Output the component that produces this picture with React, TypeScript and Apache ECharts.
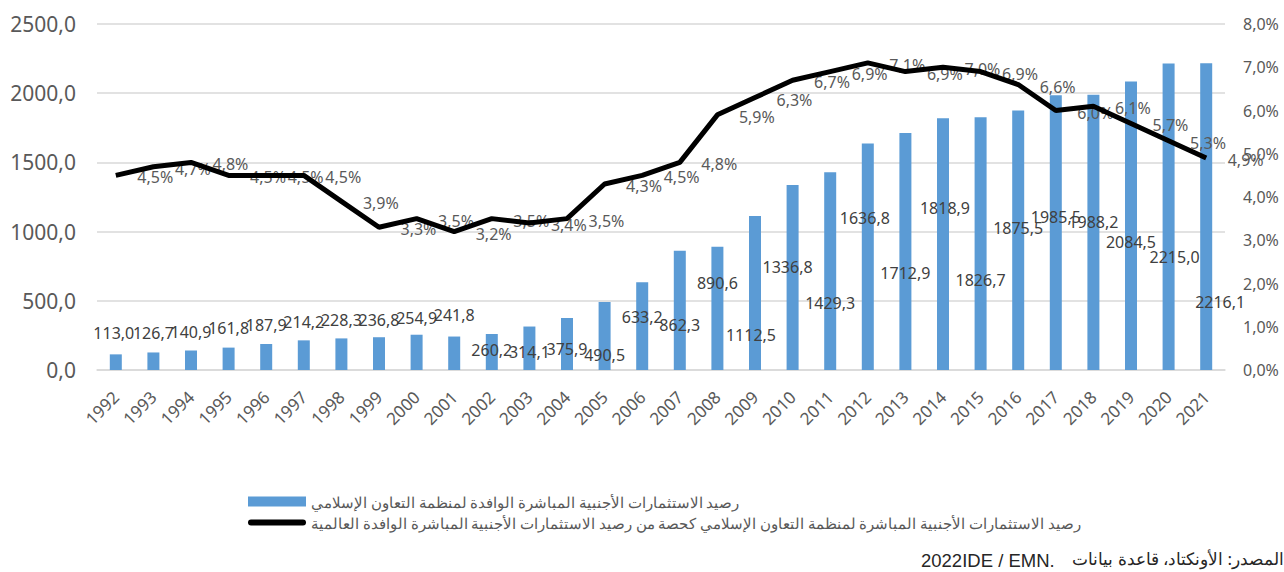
import React, { useEffect, useRef } from "react";
import * as echarts from "echarts";

const years = [
  "1992", "1993", "1994", "1995", "1996", "1997", "1998", "1999", "2000", "2001",
  "2002", "2003", "2004", "2005", "2006", "2007", "2008", "2009", "2010", "2011",
  "2012", "2013", "2014", "2015", "2016", "2017", "2018", "2019", "2020", "2021",
];

const oicStock = [
  113.0, 126.7, 140.9, 161.8, 187.9, 214.2, 228.3, 236.8, 254.9, 241.8,
  260.2, 314.1, 375.9, 490.5, 633.2, 862.3, 890.6, 1112.5, 1336.8, 1429.3,
  1636.8, 1712.9, 1818.9, 1826.7, 1875.5, 1985.5, 1988.2, 2084.5, 2215.0, 2216.1,
];

const worldShare = [
  4.5, 4.7, 4.8, 4.5, 4.5, 4.5, 3.9, 3.3, 3.5, 3.2,
  3.5, 3.4, 3.5, 4.3, 4.5, 4.8, 5.9, 6.3, 6.7, 6.9,
  7.1, 6.9, 7.0, 6.9, 6.6, 6.0, 6.1, 5.7, 5.3, 4.9,
];

// label placement (as moved by hand in the original): vertical distance of the
// label centre below the bar top (negative = above), and horizontal nudge
const barLabelDrop = [
  -21, -19.5, -18, -19.5, -19, -18.5, -18.5, -17, -17, -21.5,
  16, 25.5, 31, 53, 35, 74.5, 36.5, 119, 82, 131,
  74.5, 140, 89.5, 163, 117.5, 122, 127, 160.5, 194, 238.5,
];
const barLabelNudge = [
  -2, 0, 0, 0, 0, 0, 0, 0, 0, 0,
  0, 0, 0, 0, 0, 0, 0, -4, -5, 0,
  -3, 0, 2, 0, 0, 0, 0, 0, 6, 14,
];

const leftTicks = { min: 0, max: 2500, interval: 500 };
const rightTicks = { min: 0, max: 8, interval: 1 };

const barName = "رصيد الاستثمارات الأجنبية المباشرة الوافدة لمنظمة التعاون الإسلامي";
const lineName =
  "رصيد الاستثمارات الأجنبية المباشرة لمنظمة التعاون الإسلامي كحصة من رصيد الاستثمارات الأجنبية المباشرة الوافدة العالمية";
const sourceLatin = "2022IDE / EMN.";
const sourceArabic = "المصدر: الأونكتاد، قاعدة بيانات";

const FONT = "'Noto Sans', 'Open Sans', sans-serif";
const fmt1 = (v: number) => v.toFixed(1).replace(".", ",");

export default function App() {
  const ref = useRef<HTMLDivElement>(null);

  useEffect(() => {
    document.body.style.margin = "0";
    if (!ref.current) return;
    const chart = echarts.init(ref.current, null, { renderer: "svg" });

    const barData = oicStock.map((v, i) => ({
      value: v,
      label: { offset: [barLabelNudge[i], barLabelDrop[i] + 8] },
    }));

    chart.setOption({
      animation: false,
      textStyle: { fontFamily: FONT },
      grid: { left: 97, right: 59, top: 24, bottom: 202, containLabel: false },
      legend: {
        orient: "vertical",
        left: 243,
        top: 489,
        itemWidth: 58,
        itemHeight: 10,
        itemGap: 6,
        selectedMode: false,
        textStyle: { fontSize: 14.5, color: "#595959", fontFamily: FONT },
        data: [
          { name: barName, icon: "rect" },
          {
            name: lineName,
            icon: "path://M3,0 H55 A3,3 0 0 1 55,6 H3 A3,3 0 0 1 3,0 Z",
          },
        ],
      },
      xAxis: {
        type: "category",
        data: years,
        axisLine: { lineStyle: { color: "#d9d9d9", width: 1.5 } },
        axisTick: { show: false },
        axisLabel: {
          interval: 0,
          rotate: 45,
          fontSize: 17,
          color: "#595959",
          margin: 24,
        },
      },
      yAxis: [
        {
          type: "value",
          ...leftTicks,
          axisLine: { show: false },
          axisTick: { show: false },
          axisLabel: {
            fontSize: 21,
            color: "#595959",
            margin: 21,
            formatter: (v: number) => fmt1(v),
          },
          splitLine: { lineStyle: { color: "#d9d9d9", width: 1.5 } },
        },
        {
          type: "value",
          ...rightTicks,
          position: "right",
          axisLine: { show: false },
          axisTick: { show: false },
          axisLabel: {
            fontSize: 16,
            color: "#595959",
            margin: 18,
            formatter: (v: number) => fmt1(v) + "%",
          },
          splitLine: { show: false },
        },
      ],
      series: [
        {
          name: barName,
          type: "bar",
          data: barData,
          barWidth: 12,
          z: 2,
          itemStyle: { color: "#5b9bd5" },
          label: {
            show: true,
            position: "top",
            distance: 0,
            fontSize: 16,
            color: "#404040",
            formatter: (p: any) => fmt1(p.value),
          },
        },
        {
          name: "labels",
          type: "line",
          yAxisIndex: 1,
          data: worldShare,
          z: 2.5,
          symbol: "circle",
          symbolSize: 1,
          itemStyle: { color: "rgba(0,0,0,0)" },
          lineStyle: { width: 0, opacity: 0 },
          label: {
            show: true,
            position: "right",
            distance: 21,
            offset: [0, 2],
            fontSize: 16,
            color: "#595959",
            formatter: (p: any) => fmt1(p.value) + "%",
          },
        },
        {
          name: lineName,
          type: "line",
          yAxisIndex: 1,
          data: worldShare,
          z: 3,
          symbol: "none",
          itemStyle: { color: "#000000" },
          lineStyle: { color: "#000000", width: 5 },
        },
      ],
      graphic: [
        {
          type: "text",
          left: 921,
          top: 551,
          style: {
            text: sourceLatin,
            fontSize: 18.5,
            fill: "#262626",
            fontFamily: "'Liberation Sans', Arial, sans-serif",
          },
        },
        {
          type: "text",
          right: 0,
          top: 550,
          style: { text: sourceArabic, fontSize: 17, fill: "#262626", fontFamily: FONT },
        },
      ],
    });

    return () => chart.dispose();
  }, []);

  return <div ref={ref} style={{ width: 1284, height: 572 }} />;
}
